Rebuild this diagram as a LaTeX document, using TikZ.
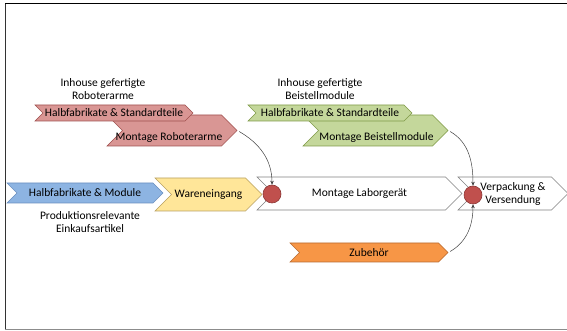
\documentclass[tikz,border=0pt]{standalone}
\usepackage{fontspec}
\setmainfont{Carlito}
\usetikzlibrary{shapes.symbols,arrows.meta}

\definecolor{redfill}{HTML}{D99694}
\definecolor{redline}{HTML}{A0504E}
\definecolor{greenfill}{HTML}{C4D79B}
\definecolor{greenline}{HTML}{7F9A48}
\definecolor{bluefill}{HTML}{8DB4E2}
\definecolor{blueline}{HTML}{6A8FBF}
\definecolor{yellowfill}{HTML}{FFE699}
\definecolor{yellowline}{HTML}{B8A060}
\definecolor{orangefill}{HTML}{F79646}
\definecolor{orangeline}{HTML}{B86A30}
\definecolor{dotfill}{HTML}{C0504D}
\definecolor{dotline}{HTML}{8C3836}

\begin{document}
\begin{tikzpicture}[x = 1pt, y = 1pt,
		chev/.style = {signal, signal from = west, signal to = east, inner sep = 0pt, line width = 0.6pt, font = \fontsize{11.5}{13}\selectfont},
		lbl/.style = {inner sep = 0pt, align = center, font = \fontsize{11.5}{13}\selectfont},
		dot/.style = {circle, draw = dotline, fill = dotfill, line width = 0.6pt, minimum size = 18pt, inner sep = 0pt},
		feed/.style = {-{Stealth[length = 4pt, width = 3.5pt]}, line width = 0.5pt, black!75, shorten <= 2pt}]
	
		\useasboundingbox (0, 0) rectangle (567, 331);
		
		% frame
		\draw[line width = 1pt] (5, 327) -- (567, 327);
		\draw[line width = 1pt, black!80] (5, 327) -- (5, 1);
		\draw[line width = 1pt, black!45] (5, 1) -- (567, 1);
	
		% inhouse arms
		\node[lbl] (armtitle) at (103, 242) {Inhouse gefertigte\\Roboterarme};
		\node[chev, fill = redfill, draw = redline, minimum width = 130pt, minimum height = 31pt] (armmount) at (172, 200.5) {};
		\node[chev, fill = redfill, draw = redline, minimum width = 158pt, minimum height = 16pt] (armparts) at (114, 218) {Halbfabrikate \& Standardteile};
		\node[lbl] (armmounttext) at (169, 193) {Montage Roboterarme};
		
		% inhouse modules
		\node[lbl] (modtitle) at (320, 242) {Inhouse gefertigte\\Beistellmodule};
		\node[chev, fill = greenfill, draw = greenline, minimum width = 145pt, minimum height = 31pt] (modmount) at (375.5, 200.5) {};
		\node[chev, fill = greenfill, draw = greenline, minimum width = 164pt, minimum height = 16pt] (modparts) at (330, 218) {Halbfabrikate \& Standardteile};
		\node[lbl] (modmounttext) at (376.5, 193) {Montage Beistellmodule};
		
		% purchased parts
		\node[chev, fill = bluefill, draw = blueline, minimum width = 156pt, minimum height = 20pt] (buy) at (85, 138) {Halbfabrikate \& Module};
		\node[lbl] (buytitle) at (90, 109) {Produktionsrelevante\\Einkaufsartikel};
		\node[chev, fill = yellowfill, draw = yellowline, minimum width = 107pt, minimum height = 33pt] (inbound) at (208.5, 136.5) {Wareneingang};
		
		% main line
		\node[chev, fill = white, draw = black!50, minimum width = 205pt, minimum height = 33pt] (assembly) at (359.5, 137.5) {Montage Laborgerät};
		\node[chev, fill = white, draw = black!50, minimum width = 110pt, minimum height = 33pt, align = center] (shipping) at (513, 137.5) {Verpackung \&\\Versendung};
		\node[chev, fill = orangefill, draw = orangeline, minimum width = 158pt, minimum height = 19pt] (extras) at (369, 78.5) {Zubehör};
		
		\node[dot] (join1) at (272, 137) {};
		\node[dot] (join2) at (473, 136) {};
		
		\draw[feed] (armmount.east) to[out = -30, in = 90] (join1.north);
		\draw[feed] (modmount.east) to[out = -30, in = 90] (join2.north);
		\draw[feed] (extras.east) to[out = 30, in = -90] (join2.south);
		
	\end{tikzpicture}
\end{document}
